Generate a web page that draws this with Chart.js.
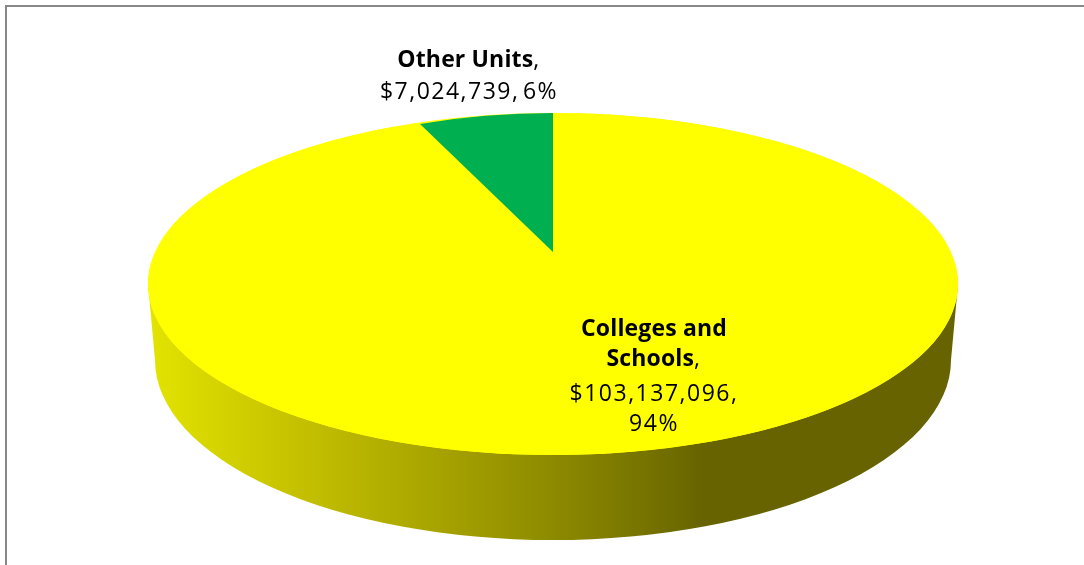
<!DOCTYPE html>
<html>
<head>
<meta charset="utf-8">
<style>
html,body{margin:0;padding:0;background:#fff;overflow:hidden}
#wrap{position:relative;width:1084px;height:565px}
#frame{position:absolute;left:5px;top:5px;right:-10px;bottom:-10px;border:2px solid #888888;box-sizing:border-box}
canvas{position:absolute;left:0;top:0}
</style>
<script src="https://cdn.jsdelivr.net/npm/chart.js@4"></script>
</head>
<body>
<div id="wrap"><div id="frame"></div><canvas id="c" width="1084" height="565"></canvas></div>
<script>
const categories = ["Colleges and Schools", "Other Units"];
const amounts = [103137096, 7024739];
const percents = ["94%", "6%"];
const sliceColors = ["#ffff00", "#00b050"];

// Text layout of the two data labels: [bold part, regular part] per line, line centre y
const labelLines = [
  [["Colleges and", ""], 654, 329],
  [["Schools", ","], 654, 359],
  [["", "$103,137,096,"], 654, 394],
  [["", "94%"], 654, 424],
  [["Other Units", ","], 469, 60],
  [["", "$7,024,739, 6%"], 469, 92]
];

// Fake-3D look: scale of the top face and wall relative to the library's radius
const FACE_RX = 405, FACE_RY = 171;
const BASE_RX = 398, BASE_RY = 180, BASE_DY = 76;
const WEDGE_RX = 341, WEDGE_RY = 139, WEDGE_DY = -32;
const wallStops = [[0,"#e4e400"],[0.04,"#dcdc00"],[0.19,"#c4c000"],[0.34,"#aaa600"],[0.49,"#8f8c00"],[0.61,"#777400"],[0.69,"#666300"],[1,"#666300"]];

const BOLD_FONT = "bold 23px 'Open Sans'", BOLD_SPACING = "0.15px";
const REG_FONT = "23px 'Open Sans'", REG_SPACING = "1.5px", REG_WORD = "-4px";

const pie3d = {
  id: "pie3d",
  afterDatasetsUpdate(chart) {
    const arcs = chart.getDatasetMeta(0).data;
    arcs.forEach((arc, i) => {
      if (arc._wrapped) return;
      arc._wrapped = true;
      const orig = arc.draw;
      arc.draw = function (ctx) {
        const r = this.outerRadius;
        ctx.save();
        if (i === 1) {
          ctx.translate(this.x, this.y + WEDGE_DY);
          ctx.scale(WEDGE_RX / r, WEDGE_RY / r);
        } else {
          ctx.translate(this.x, this.y);
          ctx.scale(FACE_RX / r, FACE_RY / r);
        }
        ctx.translate(-this.x, -this.y);
        orig.call(this, ctx);
        ctx.restore();
      };
    });
  },
  beforeDatasetsDraw(chart) {
    const ctx = chart.ctx;
    const a = chart.getDatasetMeta(0).data[0];
    const cx = a.x, cy = a.y;
    // side wall
    const g = ctx.createLinearGradient(cx - FACE_RX, 0, cx + FACE_RX, 0);
    wallStops.forEach(s => g.addColorStop(s[0], s[1]));
    ctx.save();
    ctx.fillStyle = g;
    ctx.beginPath();
    ctx.moveTo(cx - FACE_RX, cy);
    ctx.lineTo(cx - BASE_RX, cy + BASE_DY);
    ctx.ellipse(cx, cy + BASE_DY, BASE_RX, BASE_RY, 0, Math.PI, 0, true);
    ctx.lineTo(cx + FACE_RX, cy);
    ctx.closePath();
    ctx.fill();
    // top face under the slices
    ctx.fillStyle = sliceColors[0];
    ctx.beginPath();
    ctx.ellipse(cx, cy, FACE_RX, FACE_RY, 0, 0, Math.PI * 2);
    ctx.fill();
    ctx.restore();
  },
  afterDatasetsDraw(chart) {
    const ctx = chart.ctx;
    ctx.save();
    ctx.fillStyle = "#000";
    ctx.textBaseline = "middle";
    ctx.textAlign = "left";
    const useBold = () => { ctx.font = BOLD_FONT; ctx.letterSpacing = BOLD_SPACING; ctx.wordSpacing = "0px"; };
    const useReg = () => { ctx.font = REG_FONT; ctx.letterSpacing = REG_SPACING; ctx.wordSpacing = REG_WORD; };
    labelLines.forEach(([parts, x, y]) => {
      useBold();
      const bw = parts[0] ? ctx.measureText(parts[0]).width : 0;
      useReg();
      const rw = parts[1] ? ctx.measureText(parts[1]).width : 0;
      const sx = x - (bw + rw) / 2;
      if (parts[0]) { useBold(); ctx.fillText(parts[0], sx, y); }
      if (parts[1]) { useReg(); ctx.fillText(parts[1], sx + bw, y); }
    });
    ctx.restore();
  }
};

new Chart(document.getElementById("c"), {
  type: "pie",
  data: {
    labels: categories,
    datasets: [{ data: amounts, backgroundColor: sliceColors, borderWidth: 0, clip: false }]
  },
  options: {
    responsive: false,
    animation: false,
    layout: { padding: { left: 22, top: 3, right: 0, bottom: 0 } },
    plugins: { legend: { display: false }, tooltip: { enabled: false } }
  },
  plugins: [pie3d]
});
</script>
</body>
</html>
